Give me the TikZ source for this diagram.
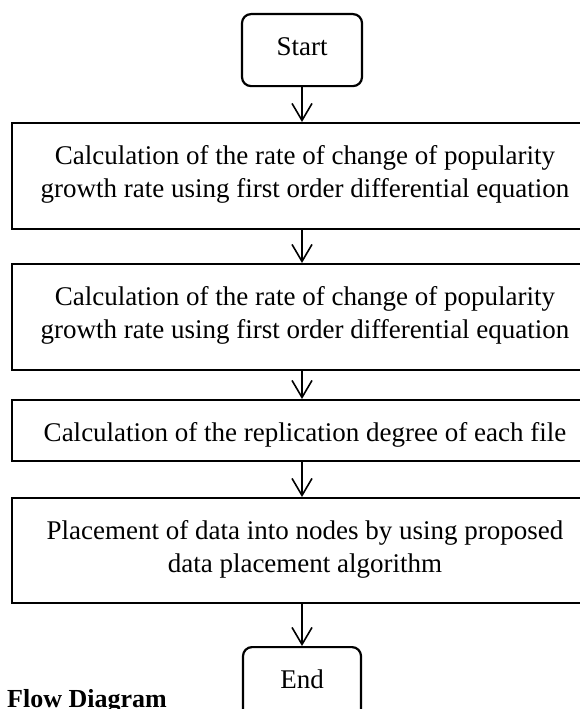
\documentclass[tikz,border=0pt]{standalone}
\usepackage{fontspec}
\setmainfont{Liberation Serif}
\usetikzlibrary{arrows.meta}
\tikzset{
  procbox/.style={draw=black, line width=2.2pt, fill=white, inner sep=0pt, anchor=north},
  termbox/.style={draw=black, line width=2.2pt, rounded corners=9pt, fill=white, inner sep=0pt, anchor=north},
  flowarrow/.style={line width=1.6pt, -{Straight Barb[length=17pt,width=20pt,line width=1.6pt]}},
  captiontext/.style={anchor=base west, inner sep=0pt, font=\fontsize{26}{30}\selectfont\bfseries}
}
\newcommand{\boxtext}[3]{\parbox[b][#1][t]{#2}{\centering\fontsize{27}{33}\selectfont\rule{0pt}{41pt}#3\par}}
\begin{document}
\begin{tikzpicture}[x=1pt,y=-1pt]
\useasboundingbox (0,0) rectangle (580,709);
\node[termbox] (st) at (302,13) {\boxtext{72pt}{120pt}{Start}};
\node[procbox] (b1) at (305,122) {\boxtext{106pt}{586pt}{Calculation of the rate of change of popularity\\growth rate using first order differential equation}};
\node[procbox] (b2) at (305,263) {\boxtext{106pt}{586pt}{Calculation of the rate of change of popularity\\growth rate using first order differential equation}};
\node[procbox] (b3) at (305,399) {\boxtext{61pt}{586pt}{Calculation of the replication degree of each file}};
\node[procbox] (b4) at (305,497) {\boxtext{105pt}{586pt}{Placement of data into nodes by using proposed\\data placement algorithm}};
\node[termbox] (en) at (302,646) {\boxtext{72pt}{118pt}{End}};
\node[captiontext] (cap) at (7,707) {Flow Diagram};
\draw[flowarrow] (st.south) -- (st.south |- b1.north);
\draw[flowarrow] (b1.south -| st.south) -- (b2.north -| st.south);
\draw[flowarrow] (b2.south -| st.south) -- (b3.north -| st.south);
\draw[flowarrow] (b3.south -| st.south) -- (b4.north -| st.south);
\draw[flowarrow] (b4.south -| st.south) -- (en.north);
\end{tikzpicture}
\end{document}
